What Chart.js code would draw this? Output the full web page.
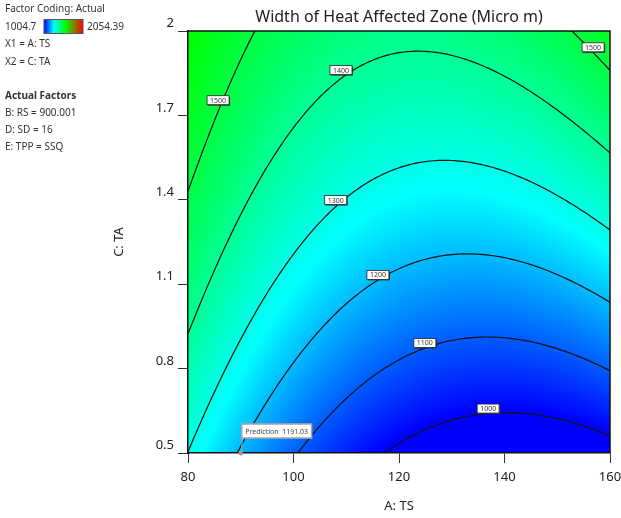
<!DOCTYPE html>
<html>
<head>
<meta charset="utf-8">
<title>Width of Heat Affected Zone</title>
<script src="https://cdn.jsdelivr.net/npm/chart.js@4.4.1/dist/chart.umd.min.js"></script>
<style>
  html, body { margin: 0; padding: 0; background: #fff; }
  #wrap { width: 621px; height: 518px; }
</style>
</head>
<body>
<div id="wrap"><canvas id="hazChart" width="621" height="518"></canvas></div>
<script>
// factor ranges and axis ticks
const rangeA = [80, 160];      // A: TS
const rangeC = [0.5, 2];       // C: TA
const ticksA = [80, 100, 120, 140, 160];
const ticksC = [0.5, 0.8, 1.1, 1.4, 1.7, 2];

// quadratic model in coded units: [intercept, A, C, AC, A^2, C^2]
const coefs = [1227.6, -91.6, 214.6, 71.4, 147.8, -25.0];

// contour levels and where their tags sit
const levels = [1000, 1100, 1200, 1300, 1400, 1500];
const tagText = ['1000', '1100', '1200', '1300', '1400', '1500', '1500'];
const tagA = [136.9, 124.9, 116.0, 108.0, 109.0, 85.7, 156.8];
const tagC = [0.658, 0.891, 1.133, 1.399, 1.861, 1.754, 1.942];

// colour scale limits (actual response range)
const colorRange = [1004.7, 2054.39];
const colorStops = [0, 0.253, 0.55, 1];
const colorRGB = [[0, 0, 255], [0, 255, 255], [0, 255, 0], [255, 0, 0]];

// flagged prediction
const predA = [90];
const predC = [0.5];
const predValue = [1191.03];

const sideNotes = ['X1 = A: TS', 'X2 = C: TA'];
const actualFactors = ['B: RS = 900.001', 'D: SD = 16', 'E: TPP = SSQ'];

const FONT = '"Noto Sans", "Open Sans", sans-serif';

function coded(A, C) {
    return [(A - 120) / 40, (C - 1.25) / 0.75];
}

function response(A, C) {
    const [a, c] = coded(A, C);
    return coefs[0] + coefs[1] * a + coefs[2] * c + coefs[3] * a * c + coefs[4] * a * a + coefs[5] * c * c;
}

function shade(v) {
    let t = (v - colorRange[0]) / (colorRange[1] - colorRange[0]);
    t = Math.max(0, Math.min(1, t));
    for (let i = 1; i < colorStops.length; i++) {
        if (t <= colorStops[i]) {
            const f = (t - colorStops[i - 1]) / (colorStops[i] - colorStops[i - 1]);
            const p = colorRGB[i - 1], q = colorRGB[i];
            return [p[0] + (q[0] - p[0]) * f, p[1] + (q[1] - p[1]) * f, p[2] + (q[2] - p[2]) * f];
        }
    }
    return colorRGB[colorRGB.length - 1];
}

// solve the model for C along A, for one contour level
function contourPoints(level) {
    const pts = [];
    for (let A = rangeA[0]; A <= rangeA[1] + 1e-9; A += 0.5) {
        const a = (A - 120) / 40;
        const qa = coefs[5];
        const qb = coefs[2] + coefs[3] * a;
        const qc = coefs[0] + coefs[1] * a + coefs[4] * a * a - level;
        const d = qb * qb - 4 * qa * qc;
        if (d < 0) { pts.push({x: A, y: null}); continue; }
        const c = (-qb + Math.sqrt(d)) / (2 * qa);
        pts.push({x: A, y: 1.25 + 0.75 * c});
    }
    return pts;
}

const datasets = levels.map(function (lv) {
    return {
        type: 'line',
        label: String(lv),
        data: contourPoints(lv),
        borderColor: '#111',
        borderWidth: 1.2,
        pointRadius: 0,
        tension: 0,
        spanGaps: false,
        clip: 0
    };
});

datasets.push({
    type: 'scatter',
    label: 'Prediction',
    data: predA.map(function (a, i) { return {x: a, y: predC[i]}; }),
    pointRadius: 2,
    pointBackgroundColor: '#9a9a9a',
    pointBorderColor: '#8a8a8a',
    clip: false
});

// filled response surface behind everything
const heatmap = {
    id: 'heatmap',
    beforeDraw(chart) {
        const {ctx, chartArea: area, scales: {x, y}} = chart;
        const w = Math.round(area.right - area.left);
        const h = Math.round(area.bottom - area.top);
        const off = document.createElement('canvas');
        off.width = w; off.height = h;
        const octx = off.getContext('2d');
        const img = octx.createImageData(w, h);
        for (let j = 0; j < h; j++) {
            const cv = y.getValueForPixel(area.top + j + 0.5);
            for (let i = 0; i < w; i++) {
                const av = x.getValueForPixel(area.left + i + 0.5);
                const rgb = shade(response(av, cv));
                const k = (j * w + i) * 4;
                img.data[k] = rgb[0];
                img.data[k + 1] = rgb[1];
                img.data[k + 2] = rgb[2];
                img.data[k + 3] = 255;
            }
        }
        octx.putImageData(img, 0, 0);
        ctx.drawImage(off, area.left, area.top);
    }
};

// contour tags, prediction flag, plot frame
const overlays = {
    id: 'overlays',
    afterDatasetsDraw(chart) {
        const {ctx, chartArea: area, scales: {x, y}} = chart;
        ctx.save();

        // frame on top and right
        ctx.strokeStyle = '#111';
        ctx.lineWidth = 1.5;
        ctx.beginPath();
        ctx.moveTo(area.left, area.top);
        ctx.lineTo(area.right, area.top);
        ctx.lineTo(area.right, area.bottom);
        ctx.stroke();

        // level tags
        ctx.font = '7px ' + FONT;
        ctx.textAlign = 'center';
        ctx.textBaseline = 'middle';
        for (let i = 0; i < tagText.length; i++) {
            const px = x.getPixelForValue(tagA[i]);
            const py = y.getPixelForValue(tagC[i]);
            const bw = ctx.measureText(tagText[i]).width + 6;
            const bh = 9;
            ctx.fillStyle = '#333';
            ctx.fillRect(px - bw / 2 + 1, py - bh / 2 + 1, bw, bh);
            ctx.fillStyle = '#fff';
            ctx.fillRect(px - bw / 2, py - bh / 2, bw, bh);
            ctx.strokeStyle = '#222';
            ctx.lineWidth = 0.8;
            ctx.strokeRect(px - bw / 2, py - bh / 2, bw, bh);
            ctx.fillStyle = '#333';
            ctx.fillText(tagText[i], px, py + 0.5);
        }

        // prediction flag
        const meta = chart.getDatasetMeta(chart.data.datasets.length - 1);
        meta.data.forEach(function (pt, i) {
            const label = 'Prediction  ' + predValue[i].toFixed(2);
            ctx.font = '7px ' + FONT;
            const bw = ctx.measureText(label).width + 7;
            const bh = 14;
            const bx = pt.x + 1;
            const by = pt.y - 15 - bh;
            ctx.strokeStyle = '#a8a8a8';
            ctx.lineWidth = 1;
            ctx.beginPath();
            ctx.moveTo(bx + 1, by + bh);
            ctx.lineTo(pt.x, pt.y);
            ctx.stroke();
            ctx.fillStyle = '#fff';
            ctx.fillRect(bx, by, bw, bh);
            ctx.lineWidth = 1.6;
            ctx.strokeRect(bx, by, bw, bh);
            ctx.fillStyle = '#444';
            ctx.textAlign = 'left';
            ctx.fillText(label, bx + 3.5, by + bh / 2 + 0.5);
        });
        ctx.restore();
    },
    afterDraw(chart) {
        const {ctx, chartArea: area} = chart;
        ctx.save();
        // title over the plot
        ctx.fillStyle = '#222';
        ctx.font = '16px ' + FONT;
        ctx.textAlign = 'center';
        ctx.textBaseline = 'middle';
        ctx.fillText('Width of Heat Affected Zone (Micro m)', (area.left + area.right) / 2, 17);

        // factor notes on the left
        ctx.textAlign = 'left';
        ctx.fillStyle = '#333';
        ctx.font = '10px ' + FONT;
        ctx.fillText('Factor Coding: Actual', 5, 9);
        ctx.fillText(String(colorRange[0]), 5, 27);
        const g = ctx.createLinearGradient(44, 0, 83, 0);
        colorStops.forEach(function (s, i) {
            g.addColorStop(s, 'rgb(' + colorRGB[i].join(',') + ')');
        });
        ctx.fillStyle = g;
        ctx.fillRect(44, 19.5, 39, 14);
        ctx.strokeStyle = '#555';
        ctx.lineWidth = 1;
        ctx.strokeRect(44, 19.5, 39, 14);
        ctx.fillStyle = '#333';
        ctx.fillText(String(colorRange[1]), 87, 27);
        sideNotes.forEach(function (t, i) { ctx.fillText(t, 5, 44 + i * 18); });
        ctx.font = 'bold 10px ' + FONT;
        ctx.fillText('Actual Factors', 5, 96);
        ctx.font = '10px ' + FONT;
        actualFactors.forEach(function (t, i) { ctx.fillText(t, 5, 113 + i * 17); });
        ctx.restore();
    }
};

const ctx = document.getElementById('hazChart').getContext('2d');
const hazChart = new Chart(ctx, {
    type: 'scatter',
    data: { datasets: datasets },
    options: {
        responsive: false,
        animation: false,
        events: [],
        layout: { padding: { left: 105, top: 31, right: 11, bottom: 0 } },
        plugins: {
            legend: { display: false },
            tooltip: { enabled: false },
            title: { display: false }
        },
        scales: {
            x: {
                type: 'linear',
                min: rangeA[0],
                max: rangeA[1],
                afterBuildTicks: function (scale) {
                    scale.ticks = ticksA.map(function (v) { return {value: v}; });
                },
                afterFit: function (scale) {
                    scale.height = 65;
                    scale.paddingLeft = 0;
                    scale.paddingRight = 0;
                },
                grid: { drawOnChartArea: false, drawTicks: true, tickLength: 10, color: '#333', lineWidth: 1 },
                border: { display: true, color: '#111', width: 1.5 },
                ticks: {
                    color: '#222', padding: 6, maxRotation: 0,
                    font: { family: FONT, size: 13 },
                    callback: function (v) { return String(v); }
                },
                title: { display: true, text: 'A: TS', color: '#222', font: { family: FONT, size: 13 }, padding: { top: 0, bottom: 4 } }
            },
            y: {
                type: 'linear',
                min: rangeC[0],
                max: rangeC[1],
                afterBuildTicks: function (scale) {
                    scale.ticks = ticksC.map(function (v) { return {value: v}; });
                },
                afterFit: function (scale) {
                    scale.width = 83;
                },
                grid: { drawOnChartArea: false, drawTicks: true, tickLength: 10, color: '#333', lineWidth: 1 },
                border: { display: true, color: '#111', width: 1.5 },
                ticks: {
                    color: '#222', padding: 4, labelOffset: -7.5,
                    font: { family: FONT, size: 13 },
                    callback: function (v) { return String(v); }
                },
                title: { display: true, text: 'C: TA', color: '#222', font: { family: FONT, size: 13 }, padding: { top: 6, bottom: 0 } }
            }
        }
    },
    plugins: [heatmap, overlays]
});
</script>
</body>
</html>
